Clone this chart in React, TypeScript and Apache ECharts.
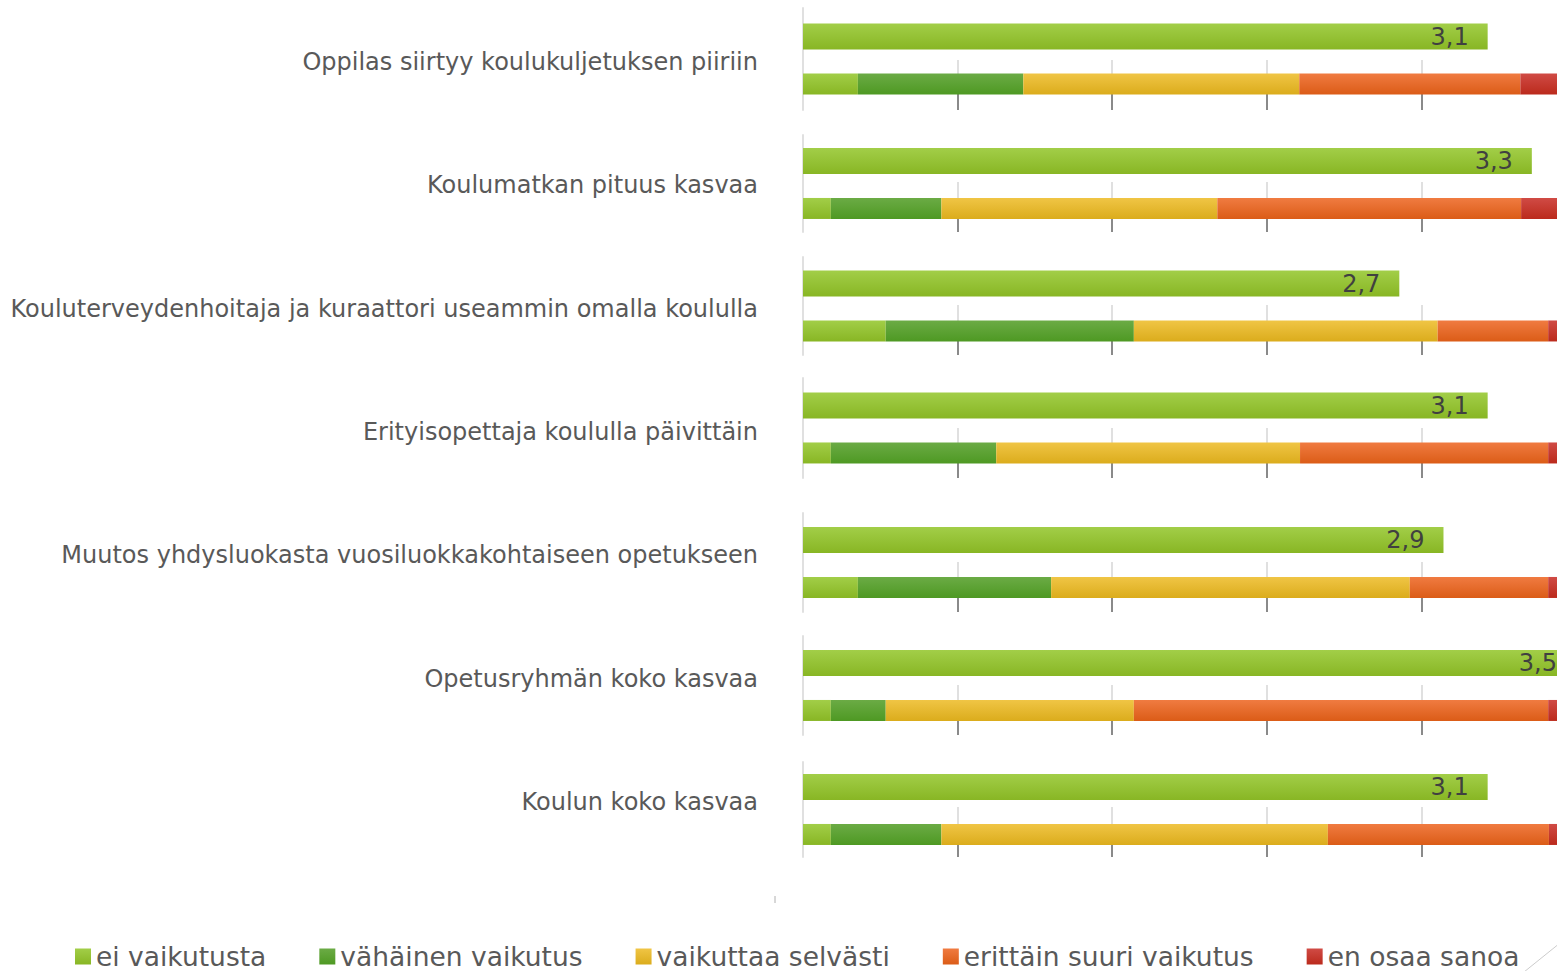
import React, { useEffect, useRef } from "react";
import * as echarts from "echarts";

// ---------- data ----------
const categories = [
  "Oppilas siirtyy koulukuljetuksen piiriin",
  "Koulumatkan pituus kasvaa",
  "Kouluterveydenhoitaja ja kuraattori useammin omalla koululla",
  "Erityisopettaja koululla päivittäin",
  "Muutos yhdysluokasta vuosiluokkakohtaiseen opetukseen",
  "Opetusryhmän koko kasvaa",
  "Koulun koko kasvaa",
];
const means = [3.1, 3.3, 2.7, 3.1, 2.9, 3.5, 3.1];

const seriesNames = [
  "ei vaikutusta",
  "vähäinen vaikutus",
  "vaikuttaa selvästi",
  "erittäin suuri vaikutus",
  "en osaa sanoa",
];
// percentages of answers
const eiVaikutusta = [7.1, 3.6, 10.7, 3.6, 7.1, 3.6, 3.6];
const vahainenVaikutus = [21.4, 14.3, 32.1, 21.4, 25.0, 7.1, 14.3];
const vaikuttaaSelvasti = [35.7, 35.7, 39.3, 39.3, 46.4, 32.1, 50.0];
const erittainSuuriVaikutus = [28.6, 39.3, 14.3, 32.1, 17.9, 53.6, 28.6];
const enOsaaSanoa = [7.1, 7.1, 3.6, 3.6, 3.6, 3.6, 3.6];
const segments = [eiVaikutusta, vahainenVaikutus, vaikuttaaSelvasti, erittainSuuriVaikutus, enOsaaSanoa];

const meanMax = 3.5;
const percentMax = 100;
const percentStep = 20;

// ---------- styles / layout ----------
const FONT = "DejaVu Sans";
const panelTops = [8, 135, 257, 378, 513, 636, 762];
const panelBottoms = [110, 232, 355, 478, 612, 735, 857];
const GRID_LEFT = 803;
const GRID_W = 773;

const grad = (top: string, bottom: string) =>
  new echarts.graphic.LinearGradient(0, 0, 0, 1, [
    { offset: 0, color: top },
    { offset: 1, color: bottom },
  ]);
const segColors: [string, string][] = [
  ["#a2ce48", "#88b624"],
  ["#6bab45", "#4e9923"],
  ["#f0c545", "#dbac1c"],
  ["#f07b41", "#db5c17"],
  ["#d04b45", "#bb2a1c"],
];

export default function App() {
  const ref = useRef<HTMLDivElement>(null);
  useEffect(() => {
    if (!ref.current) return;
    const chart = echarts.init(ref.current, undefined, { renderer: "svg" });

    const grid: any[] = [];
    const xAxis: any[] = [];
    const yAxis: any[] = [];
    const series: any[] = [];

    // label grid (index 0): category labels, evenly spaced
    grid.push({ left: GRID_LEFT, top: -6, width: GRID_W, height: 870 });
    xAxis.push({ type: "value", gridIndex: 0, min: 0, max: percentMax, show: false });
    yAxis.push({
      type: "category",
      gridIndex: 0,
      inverse: true,
      data: categories,
      axisLine: { show: false },
      axisTick: { show: false },
      splitLine: { show: false },
      axisLabel: { fontSize: 24, color: "#595959", margin: 45, fontFamily: FONT },
    });

    categories.forEach((cat, i) => {
      const T = panelTops[i];
      const B = panelBottoms[i];
      const g = 1 + 2 * i; // panel grid
      const gs = 2 + 2 * i; // split-line grid
      grid.push({ left: GRID_LEFT, top: T, width: GRID_W, height: B - T });
      grid.push({ left: GRID_LEFT, top: B - 50, width: GRID_W, height: 50 });

      const xm = xAxis.length;
      xAxis.push({ type: "value", gridIndex: g, min: 0, max: meanMax, show: false });
      xAxis.push({ type: "value", gridIndex: g, min: 0, max: percentMax, show: false });
      xAxis.push({
        type: "value",
        gridIndex: gs,
        min: 0,
        max: percentMax,
        interval: percentStep,
        axisLine: { show: false },
        axisLabel: { show: false },
        axisTick: {
          show: true,
          inside: true,
          length: 18,
          customValues: [20, 40, 60, 80, 100],
          lineStyle: { color: "#8a8a8a", width: 2 },
        },
        splitLine: { show: true, lineStyle: { color: "#e0e0e0", width: 2 } },
      });

      const ym = yAxis.length;
      yAxis.push({
        type: "category",
        gridIndex: g,
        data: [cat],
        axisLine: { show: true, lineStyle: { color: "#e0e0e0", width: 2 } },
        axisTick: { show: false },
        axisLabel: { show: false },
      });
      yAxis.push({ type: "category", gridIndex: gs, data: [""], show: false });

      series.push({
        type: "bar",
        name: "keskiarvo",
        xAxisIndex: xm,
        yAxisIndex: ym,
        barWidth: 26,
        barGap: "92%",
        data: [means[i]],
        itemStyle: { color: grad(segColors[0][0], segColors[0][1]) },
        label: {
          show: true,
          position: "insideRight",
          distance: 19,
          fontSize: 24,
          color: "#404040",
          fontFamily: FONT,
          formatter: (p: any) => String(p.value).replace(".", ","),
        },
      });
      segments.forEach((arr, k) => {
        series.push({
          type: "bar",
          name: seriesNames[k],
          stack: "p" + i,
          xAxisIndex: xm + 1,
          yAxisIndex: ym,
          barWidth: 21,
          barGap: "92%",
          data: [arr[i]],
          itemStyle: { color: grad(segColors[k][0], segColors[k][1]) },
        });
      });
    });

    chart.setOption({
      animation: false,
      backgroundColor: "#ffffff",
      grid,
      xAxis,
      yAxis,
      series,
      legend: {
        data: seriesNames,
        left: 75,
        top: 943,
        padding: 0,
        itemWidth: 16,
        itemHeight: 16,
        itemGap: 53,
        icon: "rect",
        selectedMode: false,
        textStyle: { fontSize: 26.5, color: "#595959", fontFamily: FONT },
      },
      graphic: [
        { type: "line", shape: { x1: 775, y1: 896, x2: 775, y2: 903 }, style: { stroke: "#b0b0b0", lineWidth: 1 } },
        { type: "line", shape: { x1: 1524, y1: 972, x2: 1560, y2: 943 }, style: { stroke: "#cccccc", lineWidth: 1 } },
      ],
    });
    return () => chart.dispose();
  }, []);

  return (
    <div
      style={{
        position: "fixed",
        left: 0,
        top: 0,
        width: 1557,
        height: 971,
        overflow: "hidden",
        background: "#fff",
      }}
    >
      <div ref={ref} style={{ width: 1600, height: 971 }} />
    </div>
  );
}
